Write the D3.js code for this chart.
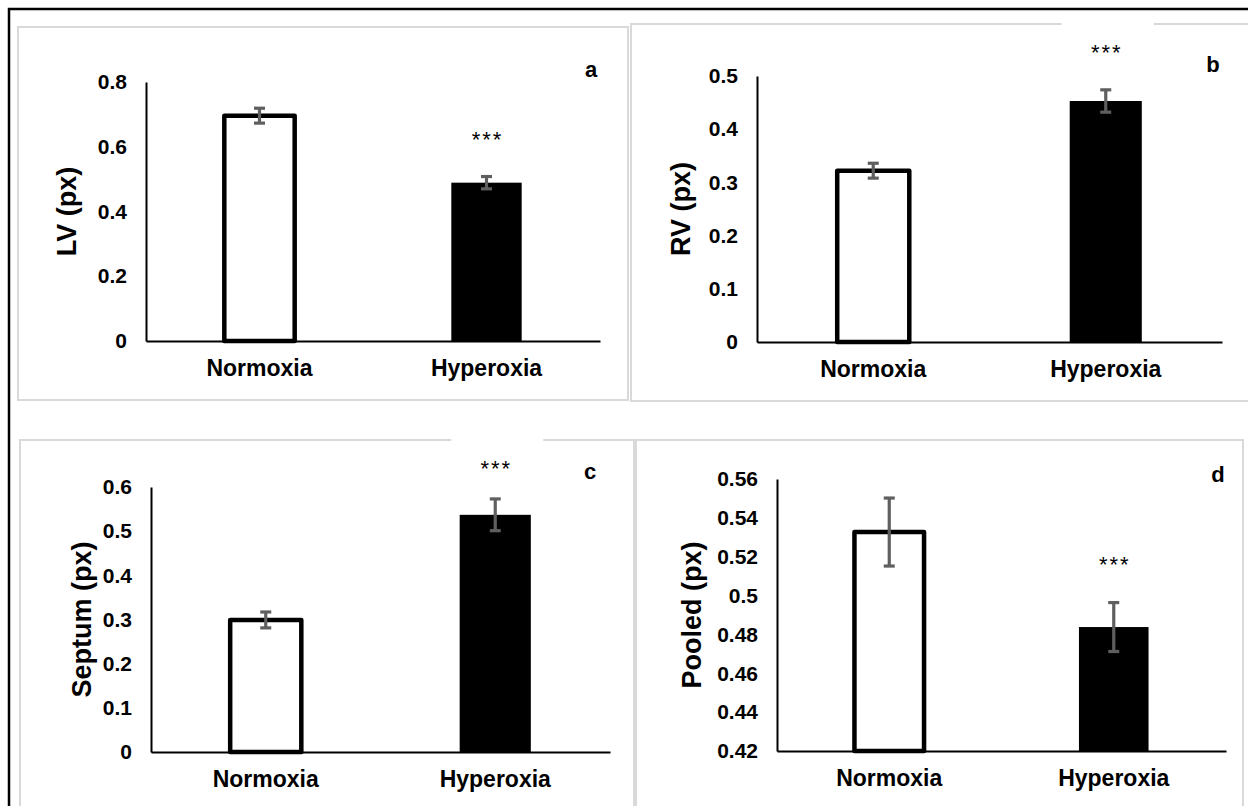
<!DOCTYPE html>
<html>
<head>
<meta charset="utf-8">
<script src="https://cdn.jsdelivr.net/npm/d3@7"></script>
<style>
  html, body { margin: 0; padding: 0; background: #fff; }
  svg { display: block; }
  text { font-family: "Liberation Sans", Arial, sans-serif; }
</style>
</head>
<body>
<svg id="chart" width="1248" height="806"></svg>
<script>
// ---- data ----
const categories = ["Normoxia", "Hyperoxia"];
const panelLetters = ["a", "b", "c", "d"];
const axisTitles = ["LV (px)", "RV (px)", "Septum (px)", "Pooled (px)"];

const lvMeans = [0.696, 0.489];
const lvErrors = [0.023, 0.019];
const rvMeans = [0.322, 0.453];
const rvErrors = [0.014, 0.021];
const septumMeans = [0.299, 0.537];
const septumErrors = [0.018, 0.036];
const pooledMeans = [0.5327, 0.4838];
const pooledErrors = [0.0175, 0.0126];

const lvTicks = [0, 0.2, 0.4, 0.6, 0.8];
const rvTicks = [0, 0.1, 0.2, 0.3, 0.4, 0.5];
const septumTicks = [0, 0.1, 0.2, 0.3, 0.4, 0.5, 0.6];
const pooledTicks = [0.42, 0.44, 0.46, 0.48, 0.5, 0.52, 0.54, 0.56];

const significance = [["", "***"], ["", "***"], ["", "***"], ["", "***"]];

// ---- layout (positions only) ----
const panels = [
  { means: lvMeans, errors: lvErrors, ticks: lvTicks,
    frame: [18, 27, 628, 400], axisX: 146, axisEnd: 600, yTop: 82, yBottom: 341,
    titleX: 67, letterX: 591, letterY: 77, sigY: 147, notch: false },
  { means: rvMeans, errors: rvErrors, ticks: rvTicks,
    frame: [631, 24, 1260, 401], axisX: 757, axisEnd: 1222, yTop: 76, yBottom: 342,
    titleX: 681, letterX: 1213, letterY: 72, sigY: 60, notch: true },
  { means: septumMeans, errors: septumErrors, ticks: septumTicks,
    frame: [20, 440, 634, 830], axisX: 151, axisEnd: 610, yTop: 487, yBottom: 752,
    titleX: 82, letterX: 590, letterY: 479, sigY: 476, notch: true },
  { means: pooledMeans, errors: pooledErrors, ticks: pooledTicks,
    frame: [636, 440, 1243, 830], axisX: 777, axisEnd: 1226, yTop: 479, yBottom: 751,
    titleX: 692, letterX: 1218, letterY: 482, sigY: 572, notch: false }
];

const svg = d3.select("#chart");

// outer black frame (left and top visible)
svg.append("path")
  .attr("d", "M9,806 L9,9 L1248,9")
  .attr("fill", "none").attr("stroke", "#000").attr("stroke-width", 2.5);

panels.forEach((p, i) => {
  const g = svg.append("g");
  const [fx0, fy0, fx1, fy1] = p.frame;
  g.append("rect")
    .attr("x", fx0).attr("y", fy0).attr("width", fx1 - fx0).attr("height", fy1 - fy0)
    .attr("fill", "#fff").attr("stroke", "#d9d9d9").attr("stroke-width", 2);

  const y = d3.scaleLinear()
    .domain([p.ticks[0], p.ticks[p.ticks.length - 1]])
    .range([p.yBottom, p.yTop]);
  const x = d3.scaleBand().domain(categories).range([p.axisX, p.axisEnd]).padding(0);
  const barW = x.bandwidth() * 0.31;

  // y axis
  const yAxis = d3.axisLeft(y).tickValues(p.ticks).tickSize(0).tickPadding(19)
    .tickFormat(d => String(+d.toFixed(2)));
  const ya = g.append("g").attr("transform", `translate(${p.axisX},0)`).call(yAxis);
  ya.select(".domain").attr("stroke", "#000").attr("stroke-width", 2);
  ya.selectAll("text").attr("font-size", 21).attr("font-weight", "bold").attr("fill", "#000")
    .attr("font-family", "'Liberation Sans', Arial, sans-serif");

  // x axis
  const xAxis = d3.axisBottom(x).tickSize(0).tickPadding(19);
  const xa = g.append("g").attr("transform", `translate(0,${p.yBottom})`).call(xAxis);
  xa.select(".domain").attr("stroke", "#000").attr("stroke-width", 2);
  xa.selectAll("text").attr("font-size", 23).attr("font-weight", "bold").attr("fill", "#000")
    .attr("font-family", "'Liberation Sans', Arial, sans-serif");

  // bars
  const rows = categories.map((c, k) => ({ c, v: p.means[k], e: p.errors[k], k }));
  g.selectAll("rect.bar").data(rows).enter().append("rect")
    .attr("class", "bar")
    .attr("x", d => x(d.c) + x.bandwidth() / 2 - barW / 2)
    .attr("y", d => y(d.v))
    .attr("width", barW)
    .attr("height", d => y(p.ticks[0]) - y(d.v))
    .attr("fill", d => d.k === 0 ? "#fff" : "#000")
    .attr("stroke", "#000")
    .attr("stroke-width", d => d.k === 0 ? 4.5 : 0)
    .attr("stroke-linejoin", "round");

  // error bars
  const eb = g.selectAll("g.err").data(rows).enter().append("g").attr("class", "err")
    .attr("stroke", "#5f5f5f").attr("stroke-width", 3.2);
  eb.append("line")
    .attr("x1", d => x(d.c) + x.bandwidth() / 2).attr("x2", d => x(d.c) + x.bandwidth() / 2)
    .attr("y1", d => y(d.v + d.e)).attr("y2", d => y(d.v - d.e));
  eb.append("line")
    .attr("x1", d => x(d.c) + x.bandwidth() / 2 - 5.5).attr("x2", d => x(d.c) + x.bandwidth() / 2 + 5.5)
    .attr("y1", d => y(d.v + d.e)).attr("y2", d => y(d.v + d.e));
  eb.append("line")
    .attr("x1", d => x(d.c) + x.bandwidth() / 2 - 5.5).attr("x2", d => x(d.c) + x.bandwidth() / 2 + 5.5)
    .attr("y1", d => y(d.v - d.e)).attr("y2", d => y(d.v - d.e));

  // significance
  rows.forEach(d => {
    const s = significance[i][d.k];
    if (!s) return;
    const cx = x(d.c) + x.bandwidth() / 2;
    if (p.notch) {
      g.append("rect").attr("x", cx - 44).attr("y", fy0 - 3).attr("width", 92).attr("height", 8)
        .attr("fill", "#fff");
    }
    g.append("text").attr("x", cx + 1).attr("y", p.sigY)
      .attr("text-anchor", "middle").attr("font-size", 22).attr("letter-spacing", 2)
      .attr("fill", "#000")
      .text(s);
  });

  // panel letter
  g.append("text").attr("x", p.letterX).attr("y", p.letterY)
    .attr("text-anchor", "middle").attr("font-size", 22).attr("font-weight", "bold")
    .text(panelLetters[i]);

  // y title
  g.append("text")
    .attr("transform", `translate(${p.titleX},${(p.yTop + p.yBottom) / 2}) rotate(-90)`)
    .attr("text-anchor", "middle").attr("dy", "0.35em")
    .attr("font-size", 27).attr("font-weight", "bold")
    .text(axisTitles[i]);
});
</script>
</body>
</html>
